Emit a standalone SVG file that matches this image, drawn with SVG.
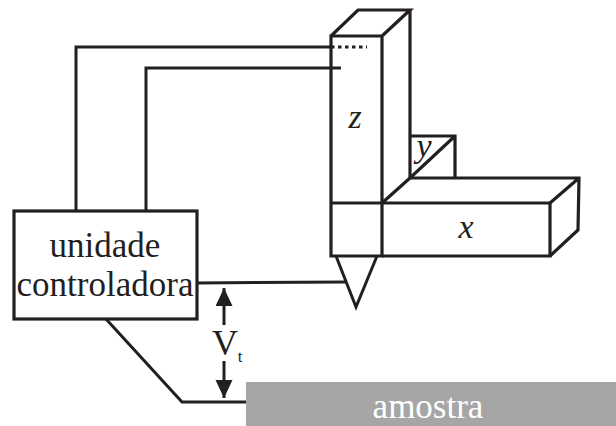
<svg xmlns="http://www.w3.org/2000/svg" width="616" height="426" viewBox="0 0 616 426">
<style>
.l{fill:none;stroke:#231f20;stroke-width:3.2;stroke-linejoin:miter}
.m{fill:none;stroke:#231f20;stroke-width:3}
.t{font-family:"Liberation Serif",serif;fill:#231f20}
.i{font-style:italic;font-size:34px;text-anchor:middle}
</style>
<defs>
<marker id="a" markerUnits="userSpaceOnUse" markerWidth="18" markerHeight="18" refX="18" refY="8.5" orient="auto"><path d="M0,0L18,8.500L0,17Z" fill="#231f20"/></marker>
</defs>
<rect width="616" height="426" fill="#fff"/>
<g id="connectors">
<path class="m" d="M76,210V47H331"/>
<path class="m" d="M331,47H367" stroke-dasharray="3.5 3.5"/>
<path class="m" d="M146,210V68H341"/>
<path class="m" d="M197,283L346,282"/>
<path class="m" d="M106,319L182,402H246"/>
<path class="m" d="M224,325V288" marker-end="url(#a)"/>
<path class="m" d="M224,361V398" marker-end="url(#a)"/>
</g>
<g id="controller">
<rect class="l" x="14" y="211" width="183" height="108"/>
<text class="t" x="105" y="257" font-size="35" text-anchor="middle">unidade</text>
<text class="t" x="105" y="296" font-size="35" text-anchor="middle">controladora</text>
</g>
<g id="vt">
<text class="t" x="225" y="355" font-size="36" text-anchor="middle">V</text>
<text class="t" x="240" y="362" font-size="17" text-anchor="middle">t</text>
</g>
<g id="sample">
<rect x="246" y="382" width="370" height="44" fill="#a6a6a6"/>
<text x="428" y="418" font-size="35" text-anchor="middle" fill="#fff" font-family="Liberation Serif, serif">amostra</text>
</g>
<g id="y-stage">
<path class="l" d="M410,136H455V178"/>
<path class="l" d="M382,203L410,178L455,136"/>
<text class="t i" x="424" y="157">y</text>
</g>
<g id="x-stage">
<path class="l" d="M382,203H550V256H382"/>
<path class="l" d="M410,178H579L578,230L550,256M550,203L579,178"/>
<text class="t i" x="466" y="238">x</text>
</g>
<g id="z-stage">
<path class="l" d="M331,36H382V256H331ZM331,203H382M331,36L358,10H410L382,36M410,10V178"/>
<text class="t i" x="355" y="128">z</text>
</g>
<g id="tip">
<path class="m" d="M336,256L356,307L377,256"/>
</g>
</svg>
